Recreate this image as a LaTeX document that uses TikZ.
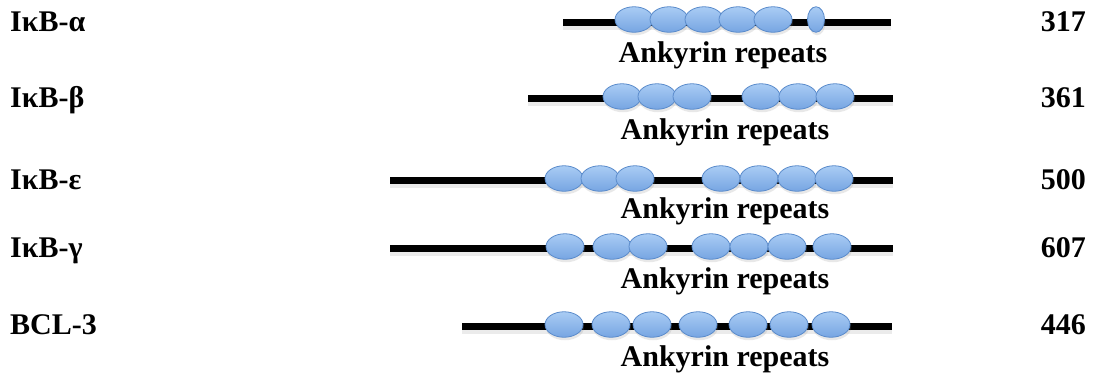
\documentclass[tikz,border=0pt]{standalone}
\usepackage{fontspec}
\setmainfont{Liberation Serif}
\usetikzlibrary{shapes.geometric,shadows}
\definecolor{reptop}{HTML}{A9CCF4}
\definecolor{repbot}{HTML}{76A5E2}
\definecolor{repline}{HTML}{5A8BCB}
\tikzset{
  protein/.style={line width=7pt, black, preaction={draw=black, opacity=0.08, line width=10pt, transform canvas={yshift=-3pt}}},
  repeatunit/.style={ellipse, draw=repline, line width=0.8pt, top color=reptop, bottom color=repbot,
     minimum width=38pt, minimum height=25.5pt, inner sep=0pt,
     drop shadow={opacity=0.18, shadow xshift=1pt, shadow yshift=-3pt}},
  smallunit/.style={repeatunit, minimum width=17pt},
  lbl/.style={font=\fontsize{30}{33}\selectfont\bfseries, inner sep=0pt},
}
\begin{document}
\begin{tikzpicture}[x=1pt,y=-1pt]
\useasboundingbox (0,0) rectangle (1094,373);
% ---- row labels and lengths
\node[lbl, anchor=base west] (n1) at (10,31) {IκB-α};
\node[lbl, anchor=base west] (n2) at (10,107) {IκB-β};
\node[lbl, anchor=base west] (n3) at (10,189) {IκB-ε};
\node[lbl, anchor=base west] (n4) at (10,257) {IκB-γ};
\node[lbl, anchor=base west] (n5) at (10,334) {BCL-3};
\node[lbl, anchor=base east] (l1) at (1086,31) {317};
\node[lbl, anchor=base east] (l2) at (1086,107) {361};
\node[lbl, anchor=base east] (l3) at (1086,189) {500};
\node[lbl, anchor=base east] (l4) at (1086,257) {607};
\node[lbl, anchor=base east] (l5) at (1086,334) {446};
% ---- protein backbones
\coordinate (s1) at (563,22);  \coordinate (t1) at (891,22);
\coordinate (s2) at (528,98);  \coordinate (t2) at (893,98);
\coordinate (s3) at (390,180); \coordinate (t3) at (893,180);
\coordinate (s4) at (390,248); \coordinate (t4) at (893,248);
\coordinate (s5) at (462,326); \coordinate (t5) at (892,326);
\foreach \r in {1,...,5} \draw[protein] (s\r) -- (t\r);
% ---- ankyrin repeats
\foreach \x [count=\i] in {634,669,704,738,773} \node[repeatunit] (a1-\i) at (\x,19.5) {};
\node[smallunit] (a1-6) at (816,19.5) {};
\foreach \x [count=\i] in {622,657,692,761,798,835} \node[repeatunit] (a2-\i) at (\x,96.5) {};
\foreach \x [count=\i] in {564,600,635,721,759,797,834} \node[repeatunit] (a3-\i) at (\x,178.5) {};
\foreach \x [count=\i] in {565,612,648,711,749,787,832} \node[repeatunit] (a4-\i) at (\x,246.5) {};
\foreach \x [count=\i] in {564,611,652,698,748,789,831} \node[repeatunit] (a5-\i) at (\x,324.5) {};
% ---- captions
\node[lbl, anchor=base] (c1) at (723,62) {Ankyrin repeats};
\node[lbl, anchor=base] (c2) at (725,139) {Ankyrin repeats};
\node[lbl, anchor=base] (c3) at (725,218) {Ankyrin repeats};
\node[lbl, anchor=base] (c4) at (725,288) {Ankyrin repeats};
\node[lbl, anchor=base] (c5) at (725,366) {Ankyrin repeats};
\end{tikzpicture}
\end{document}
